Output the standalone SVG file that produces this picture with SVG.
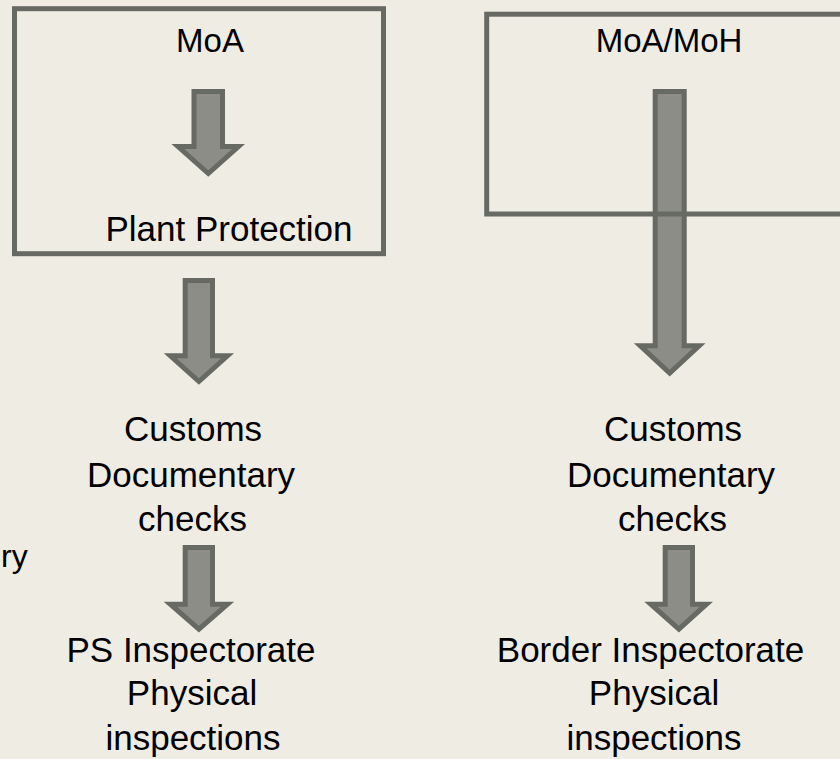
<svg xmlns="http://www.w3.org/2000/svg" width="840" height="759" viewBox="0 0 840 759">
<style>
.bg{fill:#EFECE4}
.box{fill:none;stroke:#676963;stroke-width:5}
.arr{fill:#8C8D86;stroke:#676963;stroke-width:5;stroke-linejoin:miter}
text{font-family:"Liberation Sans",Arial,sans-serif;fill:#000;text-anchor:middle}
.t{font-size:35px}
.h{font-size:33px}
</style>
<rect class="bg" x="0" y="0" width="840" height="759"/>
<g id="connectors">
<path class="arr" d="M194,91.5 H222.5 V146.5 H238.5 L208.3,173.5 L178,146.5 H194 Z"/>
<path class="arr" d="M185.2,280.5 H212.5 V355.8 H227.5 L198.9,381.5 L170.3,355.8 H185.2 Z"/>
<path class="arr" d="M185.2,547.5 H212.5 V604.2 H227.5 L198.9,629.2 L170.3,604.2 H185.2 Z"/>
<path class="arr" d="M655.2,91.5 H684.2 V345.8 H699.2 L669.7,373.2 L640.2,345.8 H655.2 Z"/>
<path class="arr" d="M665.2,547.5 H692.5 V604.2 H706.5 L678.9,629.2 L650.8,604.2 H665.2 Z"/>
</g>
<g id="moa">
<rect class="box" x="14.5" y="8.7" width="369" height="245"/>
<text class="h" x="210" y="52">MoA</text>
<text class="t" x="229" y="241">Plant Protection</text>
</g>
<g id="moa-moh">
<rect class="box" x="486.7" y="14.2" width="380" height="199.8"/>
<text class="h" x="669" y="52">MoA/MoH</text>
</g>
<g id="customs-left">
<text class="t" x="193" y="441">Customs</text>
<text class="t" x="191" y="487">Documentary</text>
<text class="t" x="192.5" y="531">checks</text>
</g>
<g id="customs-right">
<text class="t" x="673" y="441">Customs</text>
<text class="t" x="671" y="487">Documentary</text>
<text class="t" x="672.5" y="531">checks</text>
</g>
<g id="ps-inspectorate">
<text class="t" x="191" y="662">PS Inspectorate</text>
<text class="t" x="192" y="705">Physical</text>
<text class="t" x="193" y="750">inspections</text>
</g>
<g id="border-inspectorate">
<text class="t" x="650.5" y="662">Border Inspectorate</text>
<text class="t" x="654" y="705">Physical</text>
<text class="t" x="654" y="750">inspections</text>
</g>
<g id="cut-label">
<text x="1" y="567" style="font-size:32px;text-anchor:start">ry</text>
</g>
</svg>
